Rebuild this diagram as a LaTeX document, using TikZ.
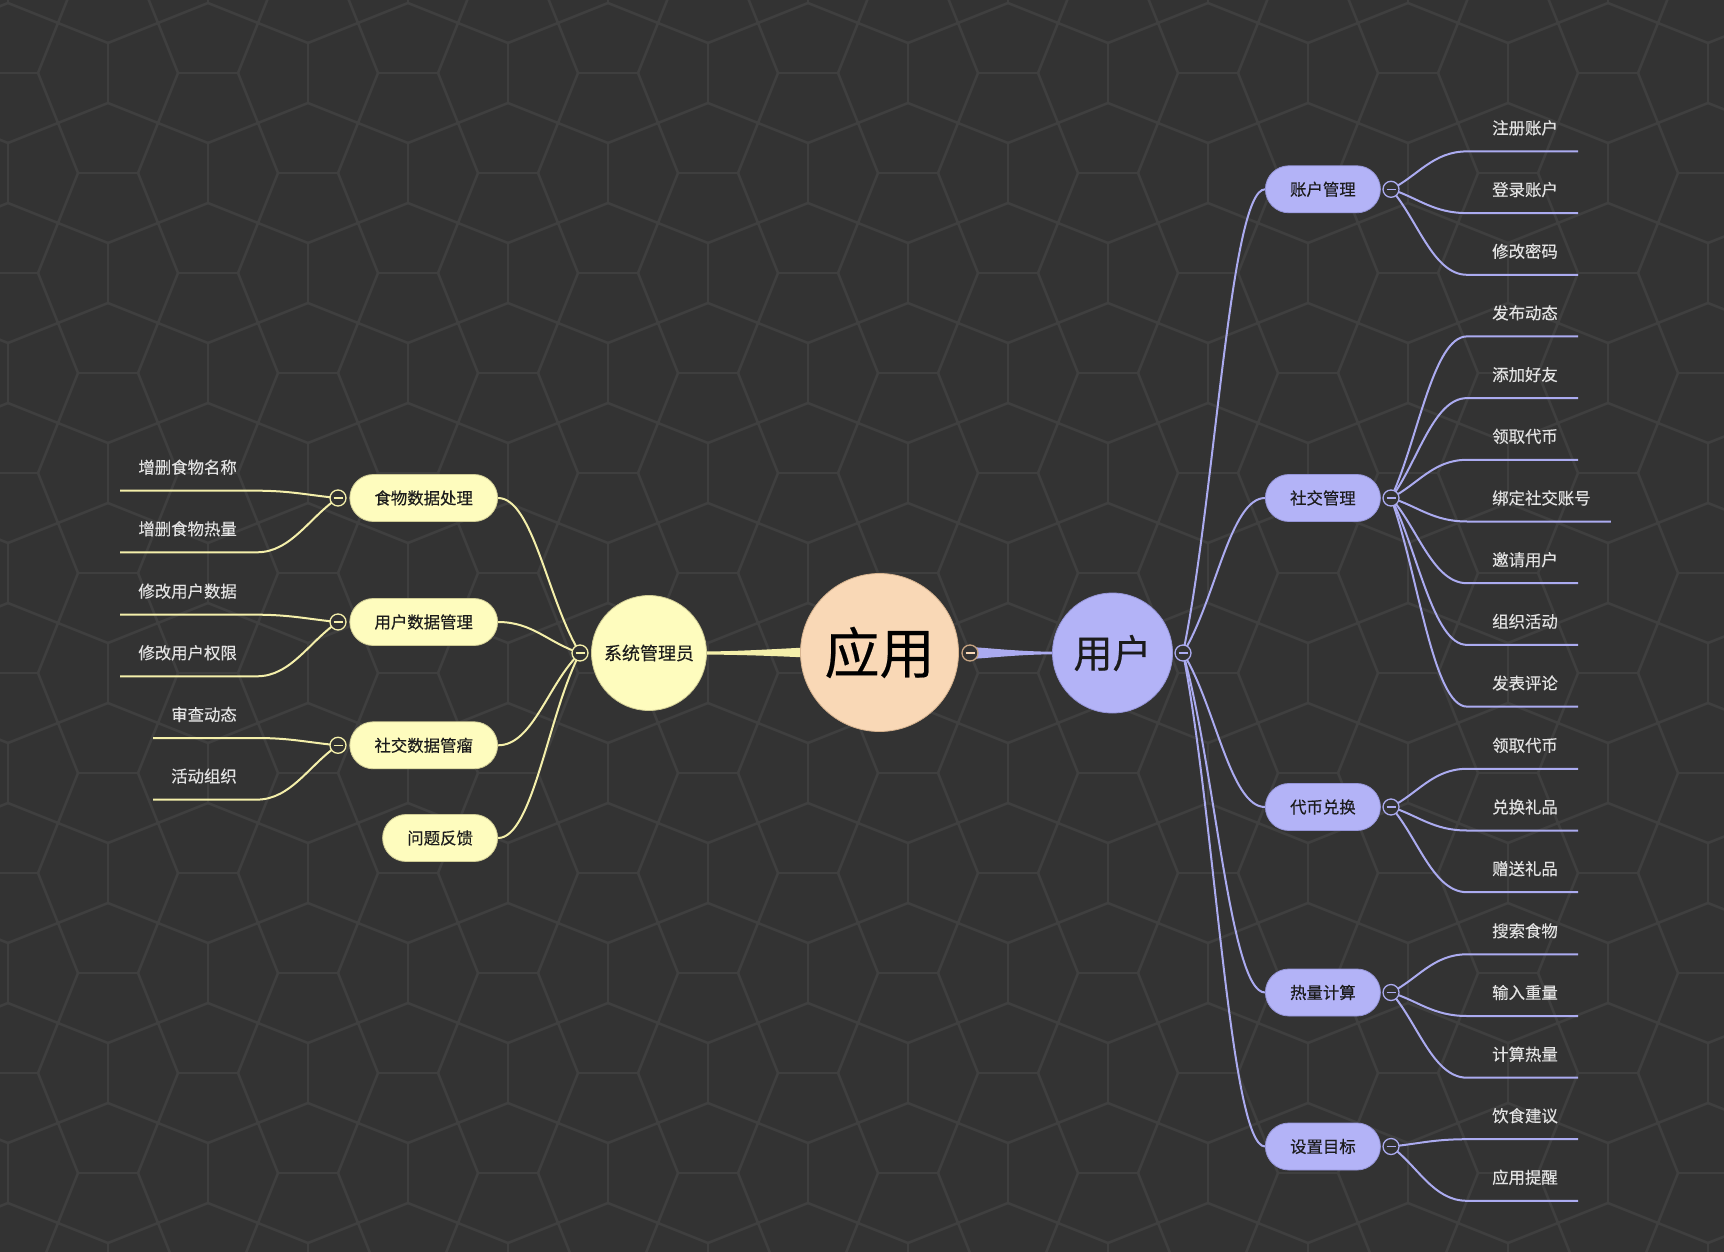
\documentclass[tikz,border=0pt]{standalone}
\usepackage{fontspec}
\setmainfont[FakeBold=0.35,AutoFakeBold=0.35]{Noto Sans CJK SC}
\usetikzlibrary{calc}
\definecolor{bgc}{HTML}{333333}
\definecolor{patc}{HTML}{3F3F3F}
\definecolor{yfill}{HTML}{FEFCBE}
\definecolor{ybord}{HTML}{CFCB94}
\definecolor{yline}{HTML}{F4EFAA}
\definecolor{bfill}{HTML}{B3B3F7}
\definecolor{bbord}{HTML}{9595D8}
\definecolor{bline}{HTML}{ABABF0}
\definecolor{pfill}{HTML}{F9D8B6}
\definecolor{pbord}{HTML}{D6B38F}
\definecolor{pring}{HTML}{C6A482}
\definecolor{leaftxt}{HTML}{E2E2E2}
\definecolor{nodetxt}{HTML}{1C1C1C}
\pgfdeclarelayer{bglayer}
\pgfdeclarelayer{edgelayer}
\pgfsetlayers{bglayer,edgelayer,main}
\tikzset{
  pat/.style={draw=patc, line width=2.6pt},
  ylink/.style={draw=yline, line width=2pt},
  blink/.style={draw=bline, line width=2pt},
  pillY/.style={rectangle, rounded corners=23.5pt, draw=ybord, fill=yfill, line width=0.8pt,
    minimum height=47pt, inner xsep=24.7pt, inner ysep=0pt, text=nodetxt,
    font=\fontsize{16.4}{20}\selectfont\bfseries},
  pillB/.style={pillY, draw=bbord, fill=bfill},
  leaf/.style={inner sep=0pt, text=leaftxt, font=\fontsize{16.4}{20}\selectfont\bfseries},
  tog/.style={circle, minimum size=16pt, inner sep=0pt, fill=bgc, draw=#1, line width=1.3pt,
    path picture={\draw[#1, line width=1.3pt] ([xshift=-4.5pt]path picture bounding box.center) -- ([xshift=4.5pt]path picture bounding box.center);}},
  rootnode/.style={circle, inner sep=0pt, line width=0.8pt, text=nodetxt}
}
% right leaf: #1 toggle circle, #2 leaf text node
\newcommand\rleaf[2]{%
  \coordinate (#2-s) at ($(#2.west)+(-25,23.5)$);
  \coordinate (#2-e) at ($(#2.east)+(20,23.5)$);
  \draw[blink] (#1.center) .. controls ($(#1.center)!0.35!(#2-s)$) and ($(#2-s)+(-34,0)$) .. (#2-s) -- (#2-e);
}
% left leaf
\newcommand\lleaf[2]{%
  \coordinate (#2-s) at ($(#2.east)+(20,23.5)$);
  \coordinate (#2-e) at ($(#2.west)+(-18,23.5)$);
  \draw[ylink] (#1.center) .. controls ($(#1.center)!0.35!(#2-s)$) and ($(#2-s)+(34,0)$) .. (#2-s) -- (#2-e);
}
% trunk curves
\newcommand\rtrunk[2]{%
  \draw[blink] let \p1=(#1.center), \p2=(#2.west) in
    (\p1) .. controls (\x1+32pt,{\y1+0.33*(\y2-\y1)}) and (\x2-35pt,\y2) .. (\p2);
}
\newcommand\ltrunk[2]{%
  \draw[ylink] let \p1=(#1.center), \p2=(#2.east) in
    (\p1) .. controls (\x1-32pt,{\y1+0.33*(\y2-\y1)}) and (\x2+35pt,\y2) .. (\p2);
}
\begin{document}
\begin{tikzpicture}[x=1pt,y=-1pt]
\useasboundingbox (0,0) rectangle (1724,1252);
\begin{pgfonlayer}{bglayer}
  \fill[bgc] (0,0) rectangle (1724,1252);
  \begin{scope}
    \clip (0,0) rectangle (1724,1252);
    \foreach \i in {-1,...,17}{
      \foreach \j in {-1,...,12}{
        \pgfmathtruncatemacro\pp{mod(\i+\j+40,2)}
        \pgfmathsetmacro\px{8+100*\i}
        \pgfmathsetmacro\py{73+100*\j}
        \pgfmathsetmacro\qx{58+100*\i}
        \pgfmathsetmacro\qy{123+100*\j}
        \ifnum\pp=0
          \draw[pat] (\px-30,\py) -- (\px+30,\py);
          \draw[pat] (\qx,\qy) -- ++(-20,-50) (\qx,\qy) -- ++(20,50)
                     (\qx,\qy) -- ++(50,-20) (\qx,\qy) -- ++(-50,20);
        \else
          \draw[pat] (\px,\py-30) -- (\px,\py+30);
          \draw[pat] (\qx,\qy) -- ++(-50,-20) (\qx,\qy) -- ++(50,20)
                     (\qx,\qy) -- ++(20,-50) (\qx,\qy) -- ++(-20,50);
        \fi
      }
    }
  \end{scope}
\end{pgfonlayer}

% central and main nodes
\node[rootnode, fill=pfill, draw=pbord, minimum size=158pt, font=\fontsize{55}{60}\selectfont\bfseries, text=black] (app) at (879.5,652.5) {应用};
\node[rootnode, fill=yfill, draw=ybord, minimum size=115pt, font=\fontsize{18}{22}\selectfont\bfseries] (sys) at (649,653) {系统管理员};
\node[rootnode, fill=bfill, draw=bbord, minimum size=120pt, font=\fontsize{39}{44}\selectfont\bfseries] (usr) at (1112.5,653) {用户};
\node[tog=pring, path picture={\draw[pfill, line width=1.3pt] ([xshift=-4.5pt]path picture bounding box.center) -- ([xshift=4.5pt]path picture bounding box.center);}] (cm) at (970,653) {};
\node[tog=yline] (cS) at (580,653) {};
\node[tog=bline] (cU) at (1183,653) {};

% left pills
\node[pillY, anchor=east] (p1) at (498,498) {食物数据处理};
\node[pillY, anchor=east] (p2) at (498,622) {用户数据管理};
\node[pillY, anchor=east] (p3) at (498,745.3) {社交数据管瘤};
\node[pillY, anchor=east] (p4) at (498,838) {问题反馈};
\node[tog=yline] (c1) at (338,498) {};
\node[tog=yline] (c2) at (338,622) {};
\node[tog=yline] (c3) at (338,745.3) {};

% left leaves
\node[leaf, anchor=east] (l11) at (237,467.2) {增删食物名称};
\node[leaf, anchor=east] (l12) at (237,528.8) {增删食物热量};
\node[leaf, anchor=east] (l21) at (237,591.2) {修改用户数据};
\node[leaf, anchor=east] (l22) at (237,652.8) {修改用户权限};
\node[leaf, anchor=east] (l31) at (237,714.5) {审查动态};
\node[leaf, anchor=east] (l32) at (237,776.1) {活动组织};

% right pills
\node[pillB, anchor=west] (r1) at (1265,189.3) {账户管理};
\node[pillB, anchor=west] (r2) at (1265,498) {社交管理};
\node[pillB, anchor=west] (r3) at (1265,807) {代币兑换};
\node[pillB, anchor=west] (r4) at (1265,992.5) {热量计算};
\node[pillB, anchor=west] (r5) at (1265,1146.5) {设置目标};
\node[tog=bline] (d1) at (1391,189.3) {};
\node[tog=bline] (d2) at (1391,498) {};
\node[tog=bline] (d3) at (1391,807) {};
\node[tog=bline] (d4) at (1391,992.5) {};
\node[tog=bline] (d5) at (1391,1146.5) {};

% right leaves
\node[leaf, anchor=west] (a1) at (1492,127.9) {注册账户};
\node[leaf, anchor=west] (a2) at (1492,189.6) {登录账户};
\node[leaf, anchor=west] (a3) at (1492,251.3) {修改密码};
\node[leaf, anchor=west] (s1) at (1492,312.9) {发布动态};
\node[leaf, anchor=west] (s2) at (1492,374.6) {添加好友};
\node[leaf, anchor=west] (s3) at (1492,436.3) {领取代币};
\node[leaf, anchor=west] (s4) at (1492,498) {绑定社交账号};
\node[leaf, anchor=west] (s5) at (1492,559.7) {邀请用户};
\node[leaf, anchor=west] (s6) at (1492,621.4) {组织活动};
\node[leaf, anchor=west] (s7) at (1492,683.1) {发表评论};
\node[leaf, anchor=west] (t1) at (1492,745.3) {领取代币};
\node[leaf, anchor=west] (t2) at (1492,807) {兑换礼品};
\node[leaf, anchor=west] (t3) at (1492,868.7) {赠送礼品};
\node[leaf, anchor=west] (h1) at (1492,930.8) {搜索食物};
\node[leaf, anchor=west] (h2) at (1492,992.5) {输入重量};
\node[leaf, anchor=west] (h3) at (1492,1054.2) {计算热量};
\node[leaf, anchor=west] (g1) at (1492,1115.7) {饮食建议};
\node[leaf, anchor=west] (g2) at (1492,1177.3) {应用提醒};

\begin{pgfonlayer}{edgelayer}
  % tapered main branches
  \fill[yline] ($(sys.east)+(-2,-1.5)$) .. controls ($(sys.east)+(34,-1.8)$) and ($(app.west)+(-25,-3.5)$) .. ($(app.west)+(2,-4.8)$)
     -- ($(app.west)+(2,4.8)$) .. controls ($(app.west)+(-25,3.5)$) and ($(sys.east)+(34,1.8)$) .. ($(sys.east)+(-2,1.5)$) -- cycle;
  \fill[bline] ($(cm.center)+(0,-6)$) .. controls ($(cm.center)+(20,-5)$) and ($(usr.west)+(-33,-1.4)$) .. ($(usr.west)+(2,-1.3)$)
     -- ($(usr.west)+(2,1.3)$) .. controls ($(usr.west)+(-33,1.4)$) and ($(cm.center)+(20,5)$) .. ($(cm.center)+(0,6)$) -- cycle;
  % left trunks
  \ltrunk{cS}{p1}
  \ltrunk{cS}{p2}
  \ltrunk{cS}{p3}
  \ltrunk{cS}{p4}
  % left leaves
  \lleaf{c1}{l11}
  \lleaf{c1}{l12}
  \lleaf{c2}{l21}
  \lleaf{c2}{l22}
  \lleaf{c3}{l31}
  \lleaf{c3}{l32}
  % right trunks
  \rtrunk{cU}{r1}
  \rtrunk{cU}{r2}
  \rtrunk{cU}{r3}
  \rtrunk{cU}{r4}
  \rtrunk{cU}{r5}
  % right leaves
  \rleaf{d1}{a1}
  \rleaf{d1}{a2}
  \rleaf{d1}{a3}
  \rleaf{d2}{s1}
  \rleaf{d2}{s2}
  \rleaf{d2}{s3}
  \rleaf{d2}{s4}
  \rleaf{d2}{s5}
  \rleaf{d2}{s6}
  \rleaf{d2}{s7}
  \rleaf{d3}{t1}
  \rleaf{d3}{t2}
  \rleaf{d3}{t3}
  \rleaf{d4}{h1}
  \rleaf{d4}{h2}
  \rleaf{d4}{h3}
  \rleaf{d5}{g1}
  \rleaf{d5}{g2}
\end{pgfonlayer}
\end{tikzpicture}
\end{document}
